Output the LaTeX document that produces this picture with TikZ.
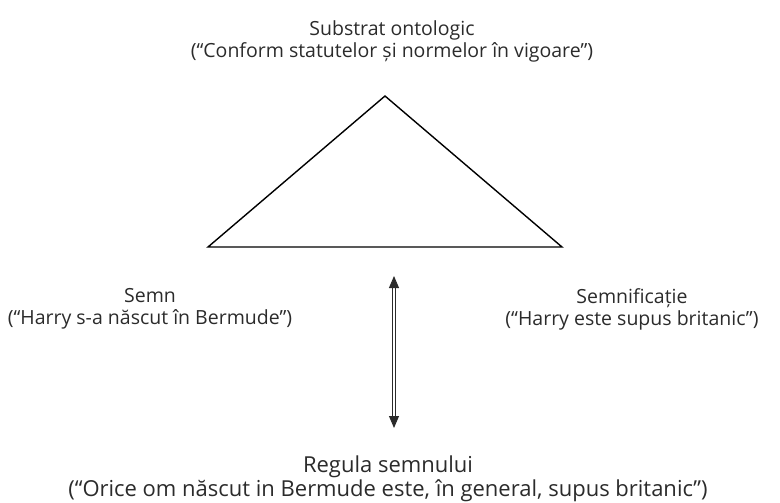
\documentclass[tikz,border=0pt]{standalone}
\usepackage{fontspec}
\setmainfont{Open Sans}
\usetikzlibrary{arrows.meta}
\definecolor{ink}{HTML}{2B2B2B}
\tikzset{
  label text/.style={align=center, text=ink, font=\fontsize{19.5}{22}\selectfont, inner sep=0pt},
  rule text/.style={label text, font=\fontsize{22}{24.5}\selectfont},
  edge line/.style={draw=black, line width=1.4pt, line join=miter},
  rule arrow/.style={draw=ink, double=white, double distance=1.8pt, line width=0.9pt,
    {Triangle[width=10pt,length=12pt]}-{Triangle[width=10pt,length=12pt]}}
}
\begin{document}
\begin{tikzpicture}[x=1pt, y=-1pt]
  \useasboundingbox (0,0) rectangle (780,503);
  % triangle corners
  \coordinate (apex) at (385,96);
  \coordinate (left) at (208,247);
  \coordinate (right) at (562,247);
  \draw[edge line] (apex) -- (left) -- (right) -- cycle;
  % labels
  \node[label text] (top) at (392,41) {Substrat ontologic\\(“Conform statutelor și normelor în vigoare”)};
  \node[label text] (semn) at (150,309) {Semn\\(“Harry s-a născut în Bermude”)};
  \node[label text] (sens) at (632,309) {Semnificație\\(“Harry este supus britanic”)};
  \node[rule text] (regula) at (388,479) {Regula semnului\\(“Orice om născut in Bermude este, în general, supus britanic”)};
  % double-headed arrow between sign and rule
  \coordinate (up) at (394,276);
  \coordinate (down) at (394,428);
  \draw[rule arrow] (up) -- (down);
\end{tikzpicture}
\end{document}
